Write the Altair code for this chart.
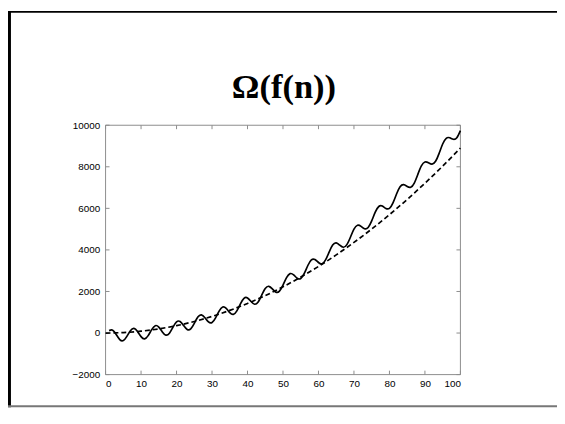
import altair as alt
import pandas as pd

# Solid curve f(n) (n = 1..100)
n_solid = list(range(1, 101))
f_solid = [116, 139, -71, -316, -364, -162, 113, 221, 76, -172,
           -279, -126, 167, 354, 287, 55, -100, -6, 283, 536,
           555, 361, 172, 202, 468, 770, 877, 740, 535, 503,
           728, 1058, 1249, 1184, 985, 898, 1069, 1407, 1671, 1689,
           1516, 1387, 1496, 1821, 2143, 2249, 2124, 1969, 2014, 2307,
           2669, 2860, 2800, 2639, 2625, 2870, 3251, 3522, 3539, 3395,
           3330, 3517, 3896, 4234, 4337, 4228, 4129, 4253, 4609, 4997,
           5187, 5135, 5019, 5080, 5396, 5815, 6089, 6108, 5997, 6002,
           6265, 6692, 7040, 7141, 7056, 7018, 7219, 7634, 8042, 8230,
           8191, 8126, 8264, 8647, 9096, 9372, 9395, 9324, 9401, 9738]

# Dashed lower bound c*g(n)
n_dash = list(range(0, 101, 5))
g_dash = [0, 22, 89, 200, 356, 556, 801, 1090, 1424, 1802, 2225,
          2692, 3204, 3760, 4361, 5006, 5696, 6430, 7209, 8032, 8900]

x_ticks = [0, 10, 20, 30, 40, 50, 60, 70, 80, 90, 100]
y_ticks = [-2000, 0, 2000, 4000, 6000, 8000, 10000]

title_text = ["Ω(f(n))"]

W, H = 360, 253
PAD_L, PAD_T, PAD_R, PAD_B = 99, 116, 98, 35
AXIS_GRAY = "#8c8c8c"
LABEL_FONT = "Liberation Sans"

df_solid = pd.DataFrame({"n": n_solid, "f": f_solid})
df_dash = pd.DataFrame({"n": n_dash, "g": g_dash})
df_xt = pd.DataFrame({"n": x_ticks})
df_yt = pd.DataFrame({"f": y_ticks})
df_one = pd.DataFrame({"a": [0]})
df_title = pd.DataFrame({"label": title_text})

xs = alt.Scale(domain=[0, 100], nice=False, zero=False)
ys = alt.Scale(domain=[-2000, 10000], nice=False, zero=False)

x_axis = alt.Axis(values=x_ticks, format="d", domain=False, ticks=False, grid=False,
                  labelPadding=4, title=None, labelFont=LABEL_FONT, labelFontSize=10,
                  labelColor="black")
y_axis = alt.Axis(values=y_ticks, format="d", domain=False, ticks=False, grid=False,
                  labelPadding=6, title=None, labelFont=LABEL_FONT, labelFontSize=10,
                  labelColor="black")


def X(field="n"):
    return alt.X(f"{field}:Q", scale=xs, axis=x_axis, title=None)


def Y(field):
    return alt.Y(f"{field}:Q", scale=ys, axis=y_axis, title=None)


solid = alt.Chart(df_solid).mark_line(color="black", strokeWidth=1.7, interpolate="natural").encode(
    x=X("n"), y=Y("f"))

dashed = alt.Chart(df_dash).mark_line(color="black", strokeWidth=1.7, strokeDash=[5, 3],
                                      interpolate="natural").encode(
    x=X("n"), y=Y("g"))

# plot box (Matlab style)
box_h = alt.Chart(pd.DataFrame({"yy": [0, H]})).mark_rule(color=AXIS_GRAY, strokeWidth=1).encode(
    x=alt.value(0), x2=alt.value(W), y=alt.Y("yy:Q", scale=None, axis=None))
box_v = alt.Chart(pd.DataFrame({"xx": [0, W]})).mark_rule(color=AXIS_GRAY, strokeWidth=1).encode(
    y=alt.value(0), y2=alt.value(H), x=alt.X("xx:Q", scale=None, axis=None))

# inward tick marks on all four sides
tick_bottom = alt.Chart(df_xt).mark_rule(color=AXIS_GRAY, strokeWidth=1).encode(
    x=X("n"), y=alt.value(H), y2=alt.value(H - 4))
tick_top = alt.Chart(df_xt).mark_rule(color=AXIS_GRAY, strokeWidth=1).encode(
    x=X("n"), y=alt.value(0), y2=alt.value(4))
tick_left = alt.Chart(df_yt).mark_rule(color=AXIS_GRAY, strokeWidth=1).encode(
    y=Y("f"), x=alt.value(0), x2=alt.value(4))
tick_right = alt.Chart(df_yt).mark_rule(color=AXIS_GRAY, strokeWidth=1).encode(
    y=Y("f"), x=alt.value(W), x2=alt.value(W - 4))

# slide title
title = alt.Chart(df_title).mark_text(
    font="Liberation Serif", fontSize=35, fontWeight="bold", color="black",
    align="center", baseline="alphabetic"
).encode(text="label:N", x=alt.value(W / 2 + 1), y=alt.value(-28))

# slide frame drawn as thin filled bars reaching the right edge of the page
LEFT_X = -PAD_L
TOP_Y = -PAD_T
BOT_Y = H + PAD_B - 3
RIGHT_X = W + PAD_R
frame_left = alt.Chart(df_one).mark_rect(color="black", strokeWidth=0).encode(
    x=alt.value(LEFT_X), x2=alt.value(LEFT_X + 3), y=alt.value(TOP_Y), y2=alt.value(BOT_Y + 1))
frame_top = alt.Chart(df_one).mark_rect(color="black", strokeWidth=0).encode(
    x=alt.value(LEFT_X), x2=alt.value(RIGHT_X), y=alt.value(TOP_Y), y2=alt.value(TOP_Y + 2))
frame_bottom = alt.Chart(df_one).mark_rect(color="#777777", strokeWidth=0).encode(
    x=alt.value(LEFT_X), x2=alt.value(RIGHT_X), y=alt.value(BOT_Y - 1), y2=alt.value(BOT_Y + 1))

chart = alt.layer(
    box_h, box_v,
    tick_bottom, tick_top, tick_left, tick_right,
    dashed, solid, title,
    frame_left, frame_top, frame_bottom,
).properties(
    width=W,
    height=H,
    autosize=alt.AutoSizeParams(type="none"),
    padding={"left": PAD_L, "top": PAD_T, "right": PAD_R, "bottom": PAD_B},
).configure_view(
    stroke="transparent", strokeWidth=0
)

chart.save("out.html", embed_options={"renderer": "svg", "actions": False})
